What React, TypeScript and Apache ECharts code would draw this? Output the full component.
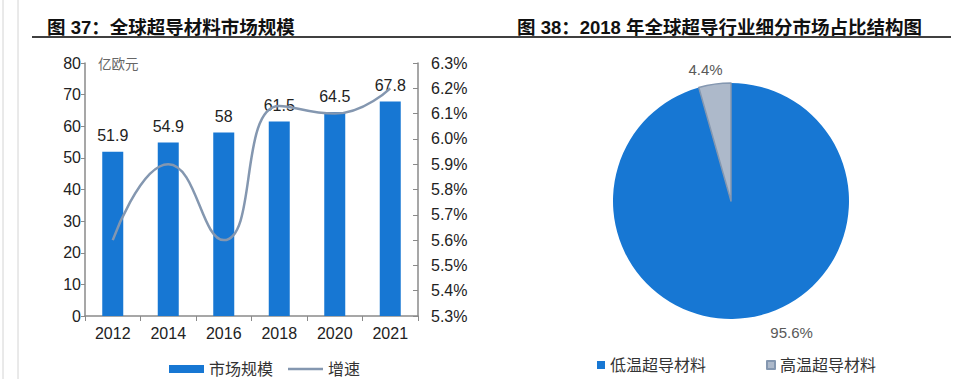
import React, { useEffect, useRef } from "react";
import * as echarts from "echarts";

const years = ["2012", "2014", "2016", "2018", "2020", "2021"];
const marketSize = [51.9, 54.9, 58, 61.5, 64.5, 67.8];
const growthPct = [5.6, 5.9, 5.6, 6.13, 6.1, 6.2];
const pieNames = ["低温超导材料", "高温超导材料"];
const pieValues = [95.6, 4.4];
const leftTitle = "图 37：全球超导材料市场规模";
const rightTitle = "图 38：2018 年全球超导行业细分市场占比结构图";
const unitLabel = "亿欧元";

const CJK = '"Liberation Sans", Arial, "Noto Sans CJK SC", sans-serif';

export default function App() {
  const ref = useRef<HTMLDivElement>(null);
  useEffect(() => {
    if (!ref.current) return;
    const chart = echarts.init(ref.current, undefined, { renderer: "svg" });
    const pieColors = ["#1777D3", "#ADB9CA"];
    const pieLabelOffsets = [[16, 0], [15, 0]];
    const lineIcon = "path://M0,0h0.05v0.05h-0.05z M0,2.8h35v2.4h-35z M34.95,7.95h0.05v0.05h-0.05z";
    chart.setOption({
      animation: false,
      backgroundColor: "#ffffff",
      textStyle: { fontFamily: CJK },
      title: [
        {
          text: leftTitle,
          left: 42,
          top: 13,
          textStyle: { fontSize: 18.5, fontWeight: "bold", color: "#111", fontFamily: CJK },
        },
        {
          text: rightTitle,
          left: 512,
          top: 13,
          textStyle: { fontSize: 18.5, fontWeight: "bold", color: "#111", fontFamily: CJK },
        },
      ],
      graphic: [
        { type: "line", shape: { x1: 3, y1: 0, x2: 3, y2: 379 }, style: { stroke: "#d4d4d4", lineWidth: 1 } },
        { type: "line", shape: { x1: 18, y1: 0, x2: 18, y2: 379 }, style: { stroke: "#d4d4d4", lineWidth: 1 } },
        { type: "line", shape: { x1: 32, y1: 37, x2: 951, y2: 37 }, style: { stroke: "#000", lineWidth: 1.5 } },
        {
          type: "text",
          left: 98,
          top: 58,
          style: { text: unitLabel, fontSize: 13.5, fill: "#666", fontFamily: CJK },
        },
      ],
      legend: [
        {
          data: [
            { name: "市场规模", icon: "rect" },
            { name: "增速", icon: lineIcon },
          ],
          left: 164,
          top: 356,
          itemWidth: 35,
          itemHeight: 8,
          itemGap: 15,
          textStyle: { fontSize: 16, color: "#333", fontFamily: CJK },
        },
        {
          data: pieNames,
          left: 592,
          top: 352,
          icon: "rect",
          itemWidth: 8,
          itemHeight: 8,
          itemGap: 60,
          textStyle: { fontSize: 16, color: "#333", fontFamily: CJK },
        },
      ],
      grid: [{ left: 85, right: 553, top: 63, height: 253 }],
      xAxis: [
        {
          type: "category",
          data: years,
          gridIndex: 0,
          axisLine: { lineStyle: { color: "#8a8a8a", width: 1.5 } },
          axisTick: { show: true, length: 5, lineStyle: { color: "#8a8a8a" } },
          axisLabel: { fontSize: 16, color: "#222", margin: 9 },
        },
      ],
      yAxis: [
        {
          type: "value",
          min: 0,
          max: 80,
          interval: 10,
          gridIndex: 0,
          splitLine: { show: false },
          axisLine: { show: true, lineStyle: { color: "#8a8a8a", width: 1.5 } },
          axisTick: { show: true, length: 4, lineStyle: { color: "#8a8a8a" } },
          axisLabel: { fontSize: 16, color: "#222", margin: 4 },
        },
        {
          type: "value",
          min: 5.3,
          max: 6.3,
          interval: 0.1,
          gridIndex: 0,
          position: "right",
          splitLine: { show: false },
          axisLine: { show: true, lineStyle: { color: "#8a8a8a", width: 1.5 } },
          axisTick: { show: true, inside: true, length: 5, lineStyle: { color: "#8a8a8a" } },
          axisLabel: {
            fontSize: 16,
            color: "#222",
            margin: 13,
            formatter: (v: number) => v.toFixed(1) + "%",
          },
        },
      ],
      series: [
        {
          name: "市场规模",
          type: "bar",
          data: marketSize,
          barWidth: 21,
          itemStyle: { color: "#1777D3" },
          label: { show: true, position: "top", distance: 8, fontSize: 16, color: "#222" },
        },
        {
          name: "增速",
          type: "line",
          yAxisIndex: 1,
          data: growthPct,
          smooth: 0.5,
          showSymbol: false,
          symbol: "none",
          lineStyle: { color: "#8497B0", width: 2.5 },
          itemStyle: { color: "#8497B0" },
        },
        {
          name: "pie",
          type: "pie",
          center: [731, 201],
          radius: 118,
          startAngle: 90,
          clockwise: true,
          data: pieNames.map((n, i) => ({
            name: n,
            value: pieValues[i],
            label: { offset: pieLabelOffsets[i] },
            itemStyle:
              i === 1
                ? { color: pieColors[1], borderColor: "#8497B0", borderWidth: 1.5 }
                : { color: pieColors[0] },
          })),
          label: {
            show: true,
            position: "outside",
            formatter: (p: any) => p.value.toFixed(1) + "%",
            fontSize: 15,
            color: "#595959",
          },
          labelLine: { show: false, length: 15, length2: 0 },
          emphasis: { disabled: true },
        },
      ],
    });
    return () => chart.dispose();
  }, []);
  return (
    <div
      ref={ref}
      style={{ position: "fixed", left: 0, top: 0, width: 971, height: 379, background: "#fff" }}
    />
  );
}
